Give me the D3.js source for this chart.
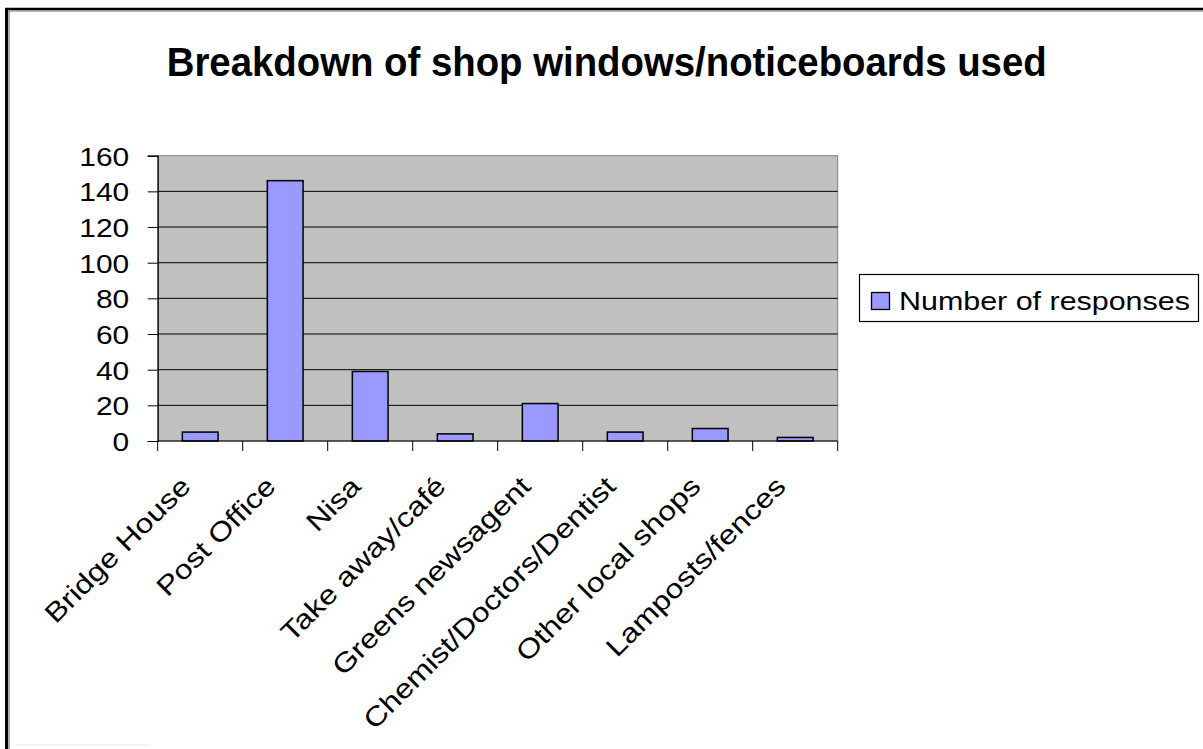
<!DOCTYPE html>
<html>
<head>
<meta charset="utf-8">
<script src="https://cdn.jsdelivr.net/npm/d3@7"></script>
<style>
  html, body { margin: 0; padding: 0; background: #fff; }
  svg { display: block; }
  text { font-family: "Liberation Sans", Arial, sans-serif; fill: #000; }
</style>
</head>
<body>
<svg id="chart" width="1203" height="749"></svg>
<script>
const categories = ["Bridge House", "Post Office", "Nisa", "Take away/café", "Greens newsagent",
  "Chemist/Doctors/Dentist", "Other local shops", "Lamposts/fences"];
const values = [5, 146, 39, 4, 21, 5, 7, 2];
const yTicks = [0, 20, 40, 60, 80, 100, 120, 140, 160];
const seriesName = "Number of responses";
const titleText = "Breakdown of shop windows/noticeboards used";

const svg = d3.select("#chart");
const W = 1203, H = 749;
const plot = { left: 157.7, right: 837.7, top: 155.7, bottom: 441 };
const SX = 1.15; // horizontal glyph stretch seen in the reference

// outer frame (left and top edges)
svg.append("line").attr("x1", 6.5).attr("y1", 8).attr("x2", 6.5).attr("y2", H).attr("stroke", "#000").attr("stroke-width", 3);
svg.append("line").attr("x1", 5).attr("y1", 9).attr("x2", W).attr("y2", 9).attr("stroke", "#000").attr("stroke-width", 2.5);
svg.append("line").attr("x1", 9).attr("y1", 11).attr("x2", W).attr("y2", 11).attr("stroke", "#777").attr("stroke-width", 1.2);
svg.append("line").attr("x1", 9).attr("y1", 11).attr("x2", 9).attr("y2", H).attr("stroke", "#777").attr("stroke-width", 1.2);
svg.append("line").attr("x1", 15).attr("y1", 745).attr("x2", 150).attr("y2", 745).attr("stroke", "#f0f0f0").attr("stroke-width", 1.5);

// title
svg.append("text")
  .attr("x", 606.7).attr("y", 75.7)
  .attr("text-anchor", "middle")
  .attr("font-size", 40).attr("font-weight", "bold")
  .attr("textLength", 880).attr("lengthAdjust", "spacingAndGlyphs")
  .text(titleText);

const x = d3.scaleBand().domain(categories).range([plot.left, plot.right]).paddingInner(0.58).paddingOuter(0.29);
const xStep = d3.scaleLinear().domain([0, categories.length]).range([plot.left, plot.right]);
const y = d3.scaleLinear().domain([0, 160]).range([plot.bottom, plot.top]);

// plot area
svg.append("rect")
  .attr("x", plot.left).attr("y", plot.top)
  .attr("width", plot.right - plot.left).attr("height", plot.bottom - plot.top)
  .attr("fill", "#c0c0c0").attr("stroke", "#808080").attr("stroke-width", 1);

// gridlines
svg.append("g").selectAll("line").data(yTicks.filter(d => d > 0 && d < 160)).join("line")
  .attr("x1", plot.left).attr("x2", plot.right)
  .attr("y1", d => y(d)).attr("y2", d => y(d))
  .attr("stroke", "#000").attr("stroke-width", 1);

// bars
svg.append("g").selectAll("rect").data(values).join("rect")
  .attr("x", (d, i) => x(categories[i]))
  .attr("y", d => y(d))
  .attr("width", x.bandwidth())
  .attr("height", d => y(0) - y(d))
  .attr("fill", "#9999ff").attr("stroke", "#000").attr("stroke-width", 1.5);

// y axis
const yAxis = svg.append("g").attr("transform", `translate(${plot.left},0)`)
  .call(d3.axisLeft(y).tickValues(yTicks).tickSize(10).tickPadding(0).tickFormat(d3.format("d")));
yAxis.select(".domain").attr("stroke", "#000").attr("stroke-width", 1.2);
yAxis.selectAll(".tick line").attr("stroke", "#000").attr("stroke-width", 1);
yAxis.selectAll(".tick text").remove();
yAxis.selectAll(".tick").append("text")
  .attr("text-anchor", "end")
  .attr("font-size", 26)
  .attr("dy", "0.36em")
  .attr("transform", `translate(-28.5,0) scale(${SX},1)`)
  .attr("fill", "#000")
  .text(d => d);

// x axis baseline and boundary ticks
svg.append("line").attr("x1", plot.left).attr("x2", plot.right)
  .attr("y1", plot.bottom).attr("y2", plot.bottom).attr("stroke", "#000").attr("stroke-width", 1.2);
svg.append("g").selectAll("line").data(d3.range(categories.length + 1)).join("line")
  .attr("x1", d => xStep(d)).attr("x2", d => xStep(d))
  .attr("y1", plot.bottom).attr("y2", plot.bottom + 10)
  .attr("stroke", "#000").attr("stroke-width", 1);

// x labels
svg.append("g").selectAll("text").data(categories).join("text")
  .attr("text-anchor", "end")
  .attr("font-size", 27)
  .attr("transform", d => `translate(${x(d) + x.bandwidth() / 2 - 8},${plot.bottom + 47}) rotate(-45) scale(1.18,1)`)
  .text(d => d);

// legend
const lg = svg.append("g");
lg.append("rect").attr("x", 859.5).attr("y", 274.5).attr("width", 339).attr("height", 47)
  .attr("fill", "#fff").attr("stroke", "#000").attr("stroke-width", 1.2);
lg.append("rect").attr("x", 871.5).attr("y", 292.5).attr("width", 18).attr("height", 17)
  .attr("fill", "#9999ff").attr("stroke", "#000").attr("stroke-width", 1.3);
lg.append("text").attr("transform", `translate(899,310) scale(1.18,1)`)
  .attr("font-size", 25.8).text(seriesName);
</script>
</body>
</html>
